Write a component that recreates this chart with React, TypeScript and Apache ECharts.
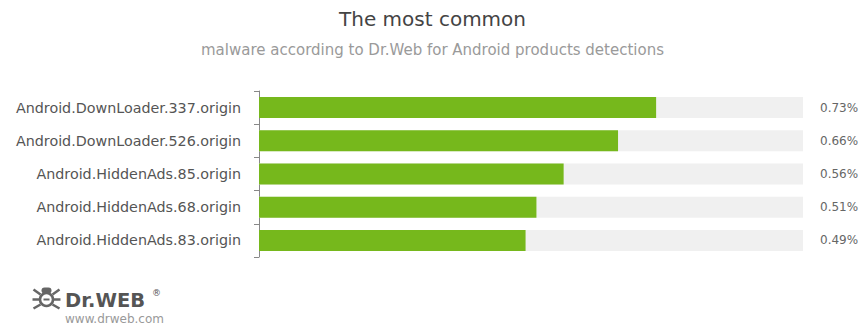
import React, { useEffect, useRef } from "react";
import * as echarts from "echarts";

const categories = [
  "Android.DownLoader.337.origin",
  "Android.DownLoader.526.origin",
  "Android.HiddenAds.85.origin",
  "Android.HiddenAds.68.origin",
  "Android.HiddenAds.83.origin",
];
const values = [0.73, 0.66, 0.56, 0.51, 0.49];
const valueLabels = values.map((v) => v.toFixed(2) + "%");

export default function App() {
  const ref = useRef<HTMLDivElement>(null);
  useEffect(() => {
    if (!ref.current) return;
    document.body.style.margin = "0";
    document.body.style.overflow = "hidden";
    const chart = echarts.init(ref.current, null, { renderer: "svg" });
    const cats = [...categories].reverse();
    const vals = [...values].reverse();
    const vlabels = [...valueLabels].reverse();
    chart.setOption({
      animation: false,
      backgroundColor: "#ffffff",
      title: [
        {
          text: "The most common",
          left: "center",
          top: 4,
          textStyle: { fontFamily: "DejaVu Sans", fontSize: 20, fontWeight: "normal", color: "#444" },
        },
        {
          text: "malware according to Dr.Web for Android products detections",
          left: "center",
          top: 37,
          textStyle: { fontFamily: "DejaVu Sans", fontSize: 15, fontWeight: "normal", color: "#9a9a9a" },
        },
      ],
      grid: { left: 259, right: 62, top: 91, height: 166, containLabel: false },
      xAxis: { type: "value", min: 0, max: 1, show: false },
      yAxis: [
        {
          type: "category",
          data: cats,
          axisLine: { show: true, lineStyle: { color: "#888", width: 1 } },
          axisTick: { show: true, length: 5, lineStyle: { color: "#888" } },
          axisLabel: { margin: 18, fontFamily: "DejaVu Sans", fontSize: 14.3, color: "#555" },
        },
        {
          type: "category",
          position: "right",
          data: vlabels,
          axisLine: { show: false },
          axisTick: { show: false },
          axisLabel: { margin: 17, fontFamily: "DejaVu Sans", fontSize: 12, color: "#666", align: "left" },
        },
      ],
      series: [
        {
          type: "bar",
          data: vals,
          barWidth: 21,
          itemStyle: { color: "#76b81c" },
          showBackground: true,
          backgroundStyle: { color: "#f0f0f0" },
        },
      ],
      graphic: [
        {
          type: "group",
          left: 30,
          top: 287,
          children: [
            { type: "circle", shape: { cx: 14, cy: 13, r: 6.5 }, style: { fill: "#fff", stroke: "#666", lineWidth: 2.5 } },
            { type: "rect", shape: { x: 9, y: 1, width: 10, height: 6, r: 3 }, style: { fill: "#666" } },
            { type: "line", shape: { x1: 1, y1: 3, x2: 8, y2: 8 }, style: { stroke: "#666", lineWidth: 2.5 } },
            { type: "line", shape: { x1: 27, y1: 3, x2: 20, y2: 8 }, style: { stroke: "#666", lineWidth: 2.5 } },
            { type: "line", shape: { x1: 0, y1: 13, x2: 7, y2: 13 }, style: { stroke: "#666", lineWidth: 2.5 } },
            { type: "line", shape: { x1: 28, y1: 13, x2: 21, y2: 13 }, style: { stroke: "#666", lineWidth: 2.5 } },
            { type: "line", shape: { x1: 1, y1: 22, x2: 8, y2: 18 }, style: { stroke: "#666", lineWidth: 2.5 } },
            { type: "line", shape: { x1: 27, y1: 22, x2: 20, y2: 18 }, style: { stroke: "#666", lineWidth: 2.5 } },
            { type: "line", shape: { x1: 11, y1: 13, x2: 17, y2: 13 }, style: { stroke: "#666", lineWidth: 2 } },
          ],
        },
        {
          type: "text",
          left: 65,
          top: 290,
          style: { text: "Dr.WEB", fontFamily: "DejaVu Sans", fontWeight: "bold", fontSize: 19.5, fill: "#555" },
        },
        {
          type: "text",
          left: 152,
          top: 288,
          style: { text: "®", fontFamily: "DejaVu Sans", fontSize: 9, fill: "#555" },
        },
        {
          type: "text",
          left: 65,
          top: 313,
          style: { text: "www.drweb.com", fontFamily: "DejaVu Sans", fontSize: 12, fill: "#999" },
        },
      ],
    });
    return () => chart.dispose();
  }, []);
  return <div ref={ref} style={{ width: 865, height: 326 }} />;
}
